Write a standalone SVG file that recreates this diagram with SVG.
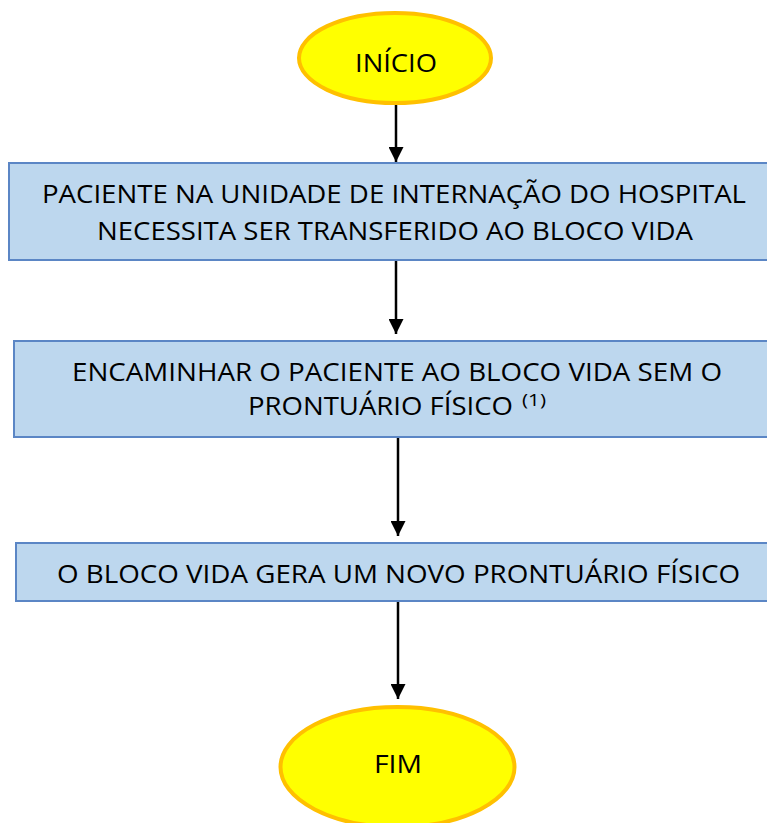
<svg xmlns="http://www.w3.org/2000/svg" width="767" height="823" viewBox="0 0 767 823">
<style>
.term{fill:#FFFF00;stroke:#FFC000;stroke-width:4}
.box{fill:#BDD7EE;stroke:#5B86C5;stroke-width:2}
.t{font-family:"Open Sans","Liberation Sans",sans-serif;font-size:26px;fill:#000}
.sup{font-family:"Open Sans","Liberation Sans",sans-serif;font-size:16px;fill:#000}
.c{stroke:#000;stroke-width:2.5;fill:none;marker-end:url(#ah)}
</style>
<defs>
<marker id="ah" markerWidth="15" markerHeight="15" refX="15" refY="7.5" orient="auto" markerUnits="userSpaceOnUse">
<path d="M0,0 L15,7.5 L0,15 Z" fill="#000"/>
</marker>
</defs>
<rect width="767" height="823" fill="#fff"/>
<g id="connectors">
<line class="c" x1="396" y1="104" x2="396" y2="162"/>
<line class="c" x1="396" y1="261" x2="396" y2="334"/>
<line class="c" x1="398" y1="438" x2="398" y2="536"/>
<line class="c" x1="398" y1="602" x2="398" y2="699"/>
</g>
<g id="inicio">
<ellipse class="term" cx="395" cy="58" rx="96" ry="45"/>
<text class="t" x="355" y="72" textLength="82" lengthAdjust="spacingAndGlyphs">INÍCIO</text>
</g>
<g id="box1">
<rect class="box" x="9" y="163" width="770" height="97"/>
<text class="t" x="42" y="203" textLength="704" lengthAdjust="spacingAndGlyphs">PACIENTE NA UNIDADE DE INTERNAÇÃO DO HOSPITAL</text>
<text class="t" x="97" y="240" textLength="596" lengthAdjust="spacingAndGlyphs">NECESSITA SER TRANSFERIDO AO BLOCO VIDA</text>
</g>
<g id="box2">
<rect class="box" x="14" y="341" width="765" height="96"/>
<text class="t" x="72" y="381" textLength="650" lengthAdjust="spacingAndGlyphs">ENCAMINHAR O PACIENTE AO BLOCO VIDA SEM O</text>
<text class="t" x="248" y="415" textLength="265" lengthAdjust="spacingAndGlyphs">PRONTUÁRIO FÍSICO</text>
<text class="sup" x="522" y="406" textLength="24" lengthAdjust="spacingAndGlyphs">(1)</text>
</g>
<g id="box3">
<rect class="box" x="16" y="543" width="763" height="58"/>
<text class="t" x="57" y="583" textLength="683" lengthAdjust="spacingAndGlyphs">O BLOCO VIDA GERA UM NOVO PRONTUÁRIO FÍSICO</text>
</g>
<g id="fim">
<ellipse class="term" cx="397.5" cy="767" rx="117" ry="60"/>
<text class="t" x="374" y="773" textLength="48" lengthAdjust="spacingAndGlyphs">FIM</text>
</g>
</svg>
